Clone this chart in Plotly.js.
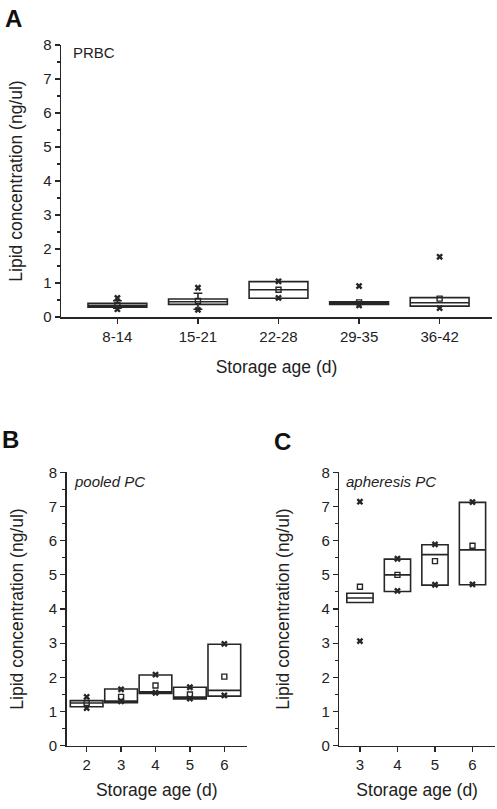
<!DOCTYPE html>
<html>
<head>
<meta charset="utf-8">
<script src="https://cdn.plot.ly/plotly-3.0.1.min.js"></script>
<style>html,body{margin:0;padding:0;background:#fff;}#chart{width:497px;height:809px;}</style>
</head>
<body>
<div id="chart"></div>
<script>
// Panel A: PRBC
var catsA = ['8-14', '15-21', '22-28', '29-35', '36-42'];
var q1A = [0.29, 0.37, 0.55, 0.37, 0.32];
var medA = [0.34, 0.45, 0.80, 0.42, 0.42];
var q3A = [0.40, 0.53, 1.04, 0.45, 0.57];
var loA = [0.26, 0.23, 0.55, 0.37, 0.32];
var hiA = [0.48, 0.70, 1.04, 0.45, 0.57];
var meanA = [0.35, 0.47, 0.80, 0.43, 0.54];
var minA = [0.23, 0.21, 0.56, 0.34, 0.26];
var maxA = [0.56, 0.86, 1.05, 0.91, 1.77];

// Panel B: pooled PC
var daysB = [2, 3, 4, 5, 6];
var q1B = [1.14, 1.26, 1.53, 1.37, 1.45];
var medB = [1.25, 1.31, 1.58, 1.42, 1.62];
var q3B = [1.32, 1.66, 2.07, 1.71, 2.97];
var meanB = [1.25, 1.43, 1.76, 1.50, 2.02];
var minB = [1.10, 1.30, 1.55, 1.38, 1.47];
var maxB = [1.43, 1.65, 2.08, 1.71, 2.98];

// Panel C: apheresis PC
var daysC = [3, 4, 5, 6];
var q1C = [4.19, 4.51, 4.70, 4.71];
var medC = [4.32, 5.00, 5.59, 5.73];
var q3C = [4.46, 5.46, 5.88, 7.12];
var meanC = [4.65, 5.00, 5.40, 5.85];
var minC = [3.06, 4.53, 4.71, 4.72];
var maxC = [7.14, 5.47, 5.89, 7.13];

var dark = '#262626';
var fontFam = 'Liberation Sans, Arial, sans-serif';

function boxTrace(x, q1, med, q3, lo, hi, w, xa, ya) {
  return {
    type: 'box', x: x, q1: q1, median: med, q3: q3,
    lowerfence: lo, upperfence: hi, width: w, whiskerwidth: 0.15,
    boxpoints: false, fillcolor: '#ffffff',
    line: {color: dark, width: 1.6},
    xaxis: xa, yaxis: ya, showlegend: false, hoverinfo: 'skip'
  };
}
function xMarks(x, y, xa, ya) {
  return {type: 'scatter', mode: 'markers', x: x, y: y, xaxis: xa, yaxis: ya,
    marker: {symbol: 'x', size: 6, color: dark, line: {width: 0}},
    showlegend: false, hoverinfo: 'skip'};
}
function meanMarks(x, y, xa, ya) {
  return {type: 'scatter', mode: 'markers', x: x, y: y, xaxis: xa, yaxis: ya,
    marker: {symbol: 'square-open', size: 5, color: dark, line: {width: 1.4, color: dark}},
    showlegend: false, hoverinfo: 'skip'};
}

var data = [
  boxTrace(catsA, q1A, medA, q3A, loA, hiA, 0.73, 'x', 'y'),
  xMarks(catsA, minA, 'x', 'y'), xMarks(catsA, maxA, 'x', 'y'), meanMarks(catsA, meanA, 'x', 'y'),
  boxTrace(daysB, q1B, medB, q3B, q1B, q3B, 0.95, 'x2', 'y2'),
  xMarks(daysB, minB, 'x2', 'y2'), xMarks(daysB, maxB, 'x2', 'y2'), meanMarks(daysB, meanB, 'x2', 'y2'),
  boxTrace(daysC, q1C, medC, q3C, q1C, q3C, 0.7, 'x3', 'y3'),
  xMarks(daysC, minC, 'x3', 'y3'), xMarks(daysC, maxC, 'x3', 'y3'), meanMarks(daysC, meanC, 'x3', 'y3')
];

var tickFont = {family: fontFam, size: 15, color: '#222'};
var titleFont = {family: fontFam, size: 17.5, color: '#222'};

function yAxis(domain, anchor, standoff) {
  return {
    domain: domain, anchor: anchor, range: [0, 8], tickvals: [0,1,2,3,4,5,6,7,8],
    ticks: 'outside', ticklen: 5, tickwidth: 1.3, tickcolor: dark,
    minor: {dtick: 0.5, tick0: 0, ticks: 'outside', ticklen: 3, tickwidth: 1.1, tickcolor: dark},
    showline: true, linecolor: dark, linewidth: 1.5, showgrid: false, zeroline: false,
    tickfont: tickFont,
    title: {text: 'Lipid concentration (ng/ul)', font: titleFont, standoff: standoff},
    fixedrange: true
  };
}
function xAxis(domain, anchor, range, standoff, extra) {
  var ax = {
    domain: domain, anchor: anchor, range: range,
    ticks: 'outside', ticklen: 5, tickwidth: 1.3, tickcolor: dark,
    showline: true, linecolor: dark, linewidth: 1.5, showgrid: false, zeroline: false,
    tickfont: tickFont,
    title: {text: 'Storage age (d)', font: titleFont, standoff: standoff},
    fixedrange: true
  };
  for (var k in extra) ax[k] = extra[k];
  return ax;
}

var H = 809, W = 497;
var layout = {
  width: W, height: H,
  margin: {l: 0, r: 0, t: 0, b: 0},
  paper_bgcolor: '#fff', plot_bgcolor: 'rgba(0,0,0,0)',
  font: {family: fontFam, color: '#222'},
  showlegend: false,
  xaxis: xAxis([61/W, 492/W], 'y', [-0.7, 4.65], 17, {type: 'category'}),
  yaxis: yAxis([1 - 317/H, 1 - 45/H], 'x', 16),
  xaxis2: xAxis([66.7/W, 246.7/W], 'y2', [1.42, 6.65], 11, {tickvals: daysB}),
  yaxis2: yAxis([1 - 745.7/H, 1 - 472.3/H], 'x2', 20),
  xaxis3: xAxis([339.3/W, 495/W], 'y3', [2.45, 6.6], 11, {tickvals: daysC}),
  yaxis3: yAxis([1 - 745.7/H, 1 - 472.3/H], 'x3', 27),
  annotations: [
    {text: '<b>A</b>', x: 3/W, y: 1 - 3/H, xref: 'paper', yref: 'paper', xanchor: 'left', yanchor: 'top', showarrow: false, font: {family: fontFam, size: 24, color: '#111'}},
    {text: '<b>B</b>', x: 0/W, y: 1 - 424/H, xref: 'paper', yref: 'paper', xanchor: 'left', yanchor: 'top', showarrow: false, font: {family: fontFam, size: 24, color: '#111'}},
    {text: '<b>C</b>', x: 272/W, y: 1 - 426/H, xref: 'paper', yref: 'paper', xanchor: 'left', yanchor: 'top', showarrow: false, font: {family: fontFam, size: 24, color: '#111'}},
    {text: 'PRBC', x: 71/W, y: 1 - 53/H, xref: 'paper', yref: 'paper', xanchor: 'left', yanchor: 'middle', showarrow: false, font: {family: fontFam, size: 15, color: '#222'}},
    {text: '<i>pooled PC</i>', x: 72/W, y: 1 - 481/H, xref: 'paper', yref: 'paper', xanchor: 'left', yanchor: 'middle', showarrow: false, font: {family: fontFam, size: 15, color: '#222'}},
    {text: '<i>apheresis PC</i>', x: 344/W, y: 1 - 481/H, xref: 'paper', yref: 'paper', xanchor: 'left', yanchor: 'middle', showarrow: false, font: {family: fontFam, size: 15, color: '#222'}}
  ]
};

Plotly.newPlot('chart', data, layout, {staticPlot: true, displayModeBar: false});
</script>
</body>
</html>
